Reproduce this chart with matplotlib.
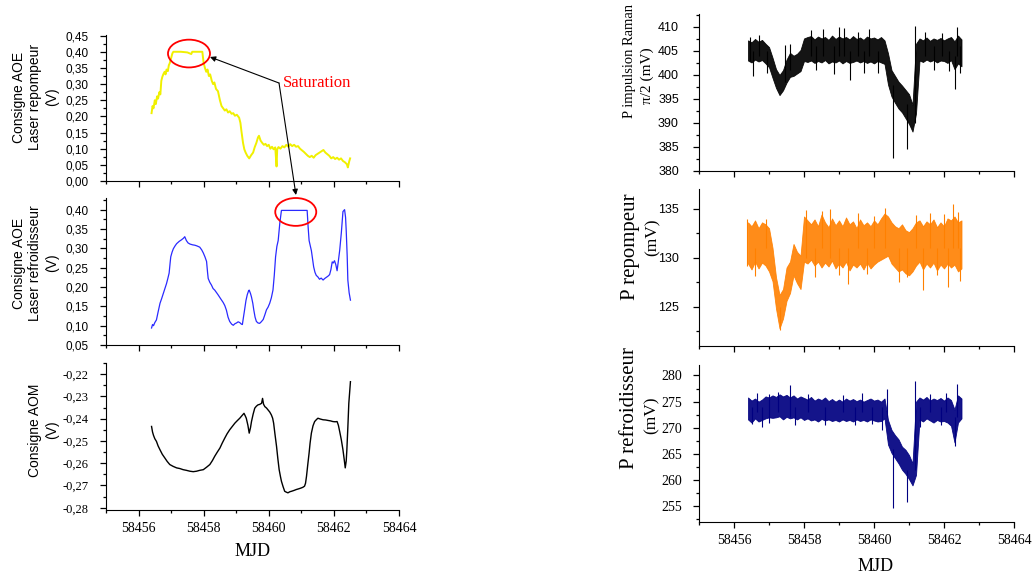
import numpy as np
import matplotlib
matplotlib.use('Agg')
import matplotlib.pyplot as plt
from matplotlib.patches import Ellipse
from matplotlib.ticker import MultipleLocator, FuncFormatter

SANS = ['Liberation Sans', 'DejaVu Sans']
SERIF = ['Liberation Serif', 'DejaVu Serif']

# ---- colonne de gauche : consignes (V) ----
mjd_rep = [58456.40, 58456.43, 58456.46, 58456.50, 58456.53, 58456.57, 58456.60, 58456.64,
           58456.67, 58456.70, 58456.73, 58456.76, 58456.80, 58456.83, 58456.86, 58456.90,
           58456.93, 58456.96, 58457.00, 58457.04, 58457.07, 58457.30, 58457.50, 58457.62,
           58457.65, 58457.96, 58458.00, 58458.04, 58458.08, 58458.12, 58458.16, 58458.20,
           58458.25, 58458.29, 58458.33, 58458.38, 58458.44, 58458.50, 58458.55, 58458.60,
           58458.65, 58458.70, 58458.75, 58458.80, 58458.86, 58458.91, 58458.96, 58459.02,
           58459.09, 58459.13, 58459.16, 58459.21, 58459.25, 58459.29, 58459.34, 58459.40,
           58459.46, 58459.52, 58459.57, 58459.62, 58459.67, 58459.70, 58459.75, 58459.80,
           58459.85, 58459.90, 58459.95, 58460.00, 58460.05, 58460.10, 58460.15, 58460.20,
           58460.24, 58460.26, 58460.30, 58460.36, 58460.42, 58460.48, 58460.54, 58460.60,
           58460.66, 58460.72, 58460.78, 58460.84, 58460.90, 58460.96, 58461.02, 58461.08,
           58461.14, 58461.20, 58461.26, 58461.32, 58461.38, 58461.44, 58461.50, 58461.56,
           58461.62, 58461.68, 58461.74, 58461.80, 58461.86, 58461.92, 58461.98, 58462.04,
           58462.10, 58462.16, 58462.22, 58462.28, 58462.34, 58462.40, 58462.43, 58462.47,
           58462.50]
aoe_rep = [0.210, 0.232, 0.225, 0.250, 0.238, 0.262, 0.255, 0.275,
           0.268, 0.310, 0.322, 0.330, 0.338, 0.330, 0.345, 0.340,
           0.358, 0.365, 0.380, 0.395, 0.400, 0.400, 0.398, 0.393,
           0.400, 0.400, 0.365, 0.350, 0.338, 0.345, 0.325, 0.330,
           0.310, 0.300, 0.305, 0.285, 0.278, 0.250, 0.232, 0.225,
           0.218, 0.222, 0.212, 0.216, 0.208, 0.210, 0.202, 0.205,
           0.196, 0.180, 0.155, 0.118, 0.098, 0.088, 0.078, 0.070,
           0.080, 0.088, 0.105, 0.118, 0.135, 0.140, 0.125, 0.118,
           0.112, 0.115, 0.108, 0.112, 0.100, 0.106, 0.098, 0.104,
           0.045, 0.098, 0.105, 0.100, 0.108, 0.104, 0.112, 0.106,
           0.114, 0.108, 0.112, 0.106, 0.108, 0.100, 0.095, 0.090,
           0.084, 0.078, 0.074, 0.078, 0.072, 0.080, 0.084, 0.088,
           0.092, 0.096, 0.088, 0.083, 0.078, 0.070, 0.074, 0.068,
           0.072, 0.066, 0.070, 0.062, 0.058, 0.052, 0.042, 0.060,
           0.070]

mjd_ref = [58456.40, 58456.43, 58456.46, 58456.50, 58456.55, 58456.60, 58456.66, 58456.71,
           58456.76, 58456.81, 58456.86, 58456.90, 58456.94, 58456.97, 58456.99, 58457.03,
           58457.07, 58457.12, 58457.17, 58457.25, 58457.32, 58457.38, 58457.42, 58457.47,
           58457.52, 58457.58, 58457.66, 58457.73, 58457.80, 58457.88, 58457.94, 58457.99,
           58458.04, 58458.09, 58458.12, 58458.14, 58458.19, 58458.24, 58458.29, 58458.34,
           58458.40, 58458.45, 58458.52, 58458.60, 58458.65, 58458.70, 58458.75, 58458.80,
           58458.86, 58458.91, 58458.96, 58459.01, 58459.06, 58459.11, 58459.16, 58459.19,
           58459.22, 58459.26, 58459.30, 58459.34, 58459.38, 58459.40, 58459.44, 58459.47,
           58459.51, 58459.54, 58459.58, 58459.62, 58459.67, 58459.72, 58459.77, 58459.83,
           58459.88, 58459.93, 58459.98, 58460.03, 58460.08, 58460.13, 58460.17, 58460.21,
           58460.25, 58460.29, 58460.34, 58460.39, 58461.18, 58461.21, 58461.24, 58461.28,
           58461.31, 58461.35, 58461.38, 58461.42, 58461.46, 58461.51, 58461.56, 58461.61,
           58461.67, 58461.72, 58461.77, 58461.82, 58461.87, 58461.91, 58461.95, 58461.98,
           58462.02, 58462.06, 58462.10, 58462.14, 58462.18, 58462.23, 58462.28, 58462.33,
           58462.36, 58462.38, 58462.41, 58462.43, 58462.47, 58462.51]
aoe_ref = [0.094, 0.103, 0.100, 0.108, 0.115, 0.135, 0.158, 0.170,
           0.183, 0.196, 0.209, 0.222, 0.236, 0.262, 0.278, 0.290,
           0.299, 0.306, 0.312, 0.318, 0.322, 0.326, 0.330, 0.320,
           0.314, 0.311, 0.309, 0.308, 0.306, 0.303, 0.296, 0.288,
           0.278, 0.266, 0.238, 0.222, 0.212, 0.205, 0.196, 0.192,
           0.185, 0.179, 0.170, 0.160, 0.152, 0.140, 0.122, 0.111,
           0.104, 0.101, 0.105, 0.107, 0.110, 0.108, 0.104, 0.103,
           0.120, 0.142, 0.165, 0.180, 0.190, 0.192, 0.183, 0.174,
           0.158, 0.141, 0.122, 0.111, 0.107, 0.106, 0.110, 0.116,
           0.128, 0.141, 0.148, 0.158, 0.172, 0.192, 0.230, 0.278,
           0.305, 0.320, 0.365, 0.398, 0.398, 0.355, 0.320, 0.305,
           0.294, 0.270, 0.252, 0.238, 0.230, 0.226, 0.220, 0.223,
           0.218, 0.222, 0.225, 0.228, 0.232, 0.245, 0.265, 0.262,
           0.268, 0.258, 0.242, 0.268, 0.295, 0.340, 0.395, 0.400,
           0.380, 0.346, 0.280, 0.218, 0.185, 0.166]

mjd_aom = [58456.40, 58456.43, 58456.46, 58456.50, 58456.55, 58456.60, 58456.66, 58456.73,
           58456.81, 58456.88, 58456.96, 58457.06, 58457.17, 58457.27, 58457.37, 58457.47,
           58457.58, 58457.68, 58457.78, 58457.88, 58457.99, 58458.09, 58458.19, 58458.27,
           58458.34, 58458.42, 58458.50, 58458.57, 58458.65, 58458.72, 58458.80, 58458.88,
           58458.96, 58459.04, 58459.11, 58459.18, 58459.24, 58459.28, 58459.31, 58459.36,
           58459.40, 58459.44, 58459.47, 58459.52, 58459.57, 58459.62, 58459.67, 58459.72,
           58459.78, 58459.81, 58459.84, 58459.88, 58459.93, 58459.98, 58460.03, 58460.08,
           58460.12, 58460.15, 58460.19, 58460.24, 58460.28, 58460.32, 58460.36, 58460.39,
           58460.44, 58460.49, 58460.54, 58460.59, 58460.65, 58460.70, 58460.78, 58460.85,
           58460.92, 58461.00, 58461.05, 58461.10, 58461.13, 58461.16, 58461.20, 58461.24,
           58461.27, 58461.31, 58461.36, 58461.41, 58461.46, 58461.51, 58461.59, 58461.67,
           58461.75, 58461.82, 58461.90, 58461.97, 58462.04, 58462.10, 58462.14, 58462.18,
           58462.23, 58462.28, 58462.32, 58462.35, 58462.38, 58462.40, 58462.43, 58462.46,
           58462.51]
aom = [-0.2435, -0.2460, -0.2475, -0.2490, -0.2502, -0.2522, -0.2540, -0.2560,
       -0.2577, -0.2592, -0.2606, -0.2614, -0.2621, -0.2624, -0.2629, -0.2632,
       -0.2636, -0.2638, -0.2636, -0.2632, -0.2629, -0.2618, -0.2606, -0.2588,
       -0.2569, -0.2550, -0.2532, -0.2510, -0.2487, -0.2468, -0.2450, -0.2435,
       -0.2420, -0.2408, -0.2398, -0.2386, -0.2376, -0.2388, -0.2398, -0.2430,
       -0.2465, -0.2440, -0.2413, -0.2380, -0.2353, -0.2344, -0.2338, -0.2336,
       -0.2331, -0.2309, -0.2335, -0.2346, -0.2352, -0.2361, -0.2370, -0.2383,
       -0.2398, -0.2420, -0.2468, -0.2525, -0.2580, -0.2629, -0.2660, -0.2681,
       -0.2705, -0.2726, -0.2730, -0.2733, -0.2728, -0.2726, -0.2722, -0.2718,
       -0.2715, -0.2711, -0.2708, -0.2703, -0.2690, -0.2659, -0.2605, -0.2554,
       -0.2510, -0.2465, -0.2432, -0.2413, -0.2405, -0.2398, -0.2402, -0.2405,
       -0.2406, -0.2408, -0.2410, -0.2413, -0.2414, -0.2413, -0.2430, -0.2458,
       -0.2495, -0.2540, -0.2585, -0.2621, -0.2590, -0.2540, -0.2440, -0.2331,
       -0.2234]

# ---- colonne de droite : puissances (mV), enveloppe haute / basse du bruit ----
mjd_p = [58456.4, 58456.5, 58456.6, 58456.7, 58456.8, 58456.9, 58457.0, 58457.1,
         58457.2, 58457.3, 58457.4, 58457.5, 58457.6, 58457.7, 58457.8, 58457.9,
         58458.0, 58458.1, 58458.2, 58458.3, 58458.4, 58458.5, 58458.6, 58458.7,
         58458.8, 58458.9, 58459.0, 58459.1, 58459.2, 58459.3, 58459.4, 58459.5,
         58459.6, 58459.7, 58459.8, 58459.9, 58460.0, 58460.1, 58460.2, 58460.3,
         58460.4, 58460.5, 58460.6, 58460.7, 58460.8, 58460.9, 58461.0, 58461.1,
         58461.2, 58461.3, 58461.4, 58461.5, 58461.6, 58461.7, 58461.8, 58461.9,
         58462.0, 58462.1, 58462.2, 58462.3, 58462.4, 58462.5]

raman_hi = [407.2, 406.8, 407.5, 406.9, 407.3, 406.5, 405.8, 403.6,
            401.2, 400.0, 401.0, 403.2, 404.6, 404.0, 404.4, 405.2,
            407.6, 407.9, 408.1, 407.4, 408.0, 407.6, 407.9, 407.3,
            408.2, 407.5, 408.0, 407.6, 407.9, 407.4, 408.1, 407.5,
            407.8, 407.3, 408.0, 407.6, 407.8, 407.4, 407.9, 407.2,
            404.5, 401.0, 399.8, 398.6, 397.8, 396.9, 396.0, 393.8,
            406.5, 407.6, 407.2, 407.8, 407.1, 407.6, 407.3, 407.7,
            407.2, 407.6, 407.9, 407.0, 408.2, 407.4]
raman_lo = [403.0, 402.6, 403.2, 402.8, 403.1, 402.4, 401.6, 399.4,
            397.3, 395.8, 396.8, 398.4, 399.6, 399.8, 400.3, 400.8,
            402.9, 402.7, 403.0, 402.5, 402.9, 402.6, 403.1, 402.4,
            402.8, 402.6, 403.0, 402.4, 402.9, 402.5, 402.7, 403.0,
            402.6, 402.9, 402.5, 402.8, 402.4, 402.9, 402.6, 402.3,
            398.0, 395.5, 394.2, 393.0, 392.2, 391.0, 389.8, 388.2,
            392.0, 403.0, 402.7, 403.2, 402.8, 403.1, 402.6, 403.0,
            402.9, 402.5, 403.1, 401.2, 402.4, 401.8]
raman_pic_t = [58456.45, 58456.55, 58456.72, 58456.95, 58457.45, 58457.6, 58458.2,
               58458.35, 58458.55, 58458.85, 58459.0, 58459.15, 58459.3, 58459.55,
               58459.7, 58459.85, 58460.1, 58460.55, 58460.95, 58461.18, 58461.45,
               58461.7, 58461.95, 58462.15, 58462.3, 58462.38, 58462.45]
raman_pic_lo = [403.0, 399.8, 404.0, 400.5, 398.5, 401.0, 404.0,
                401.0, 404.0, 400.2, 404.0, 404.0, 399.0, 404.0,
                400.3, 404.0, 400.5, 382.6, 384.6, 390.0, 404.0,
                401.0, 404.0, 400.8, 397.0, 404.0, 400.5]
raman_pic_hi = [408.0, 405.0, 408.3, 405.0, 406.2, 406.5, 409.4,
                406.0, 409.5, 406.0, 410.0, 409.8, 405.0, 409.0,
                405.0, 409.6, 405.0, 398.0, 394.0, 410.2, 409.0,
                406.0, 408.8, 405.0, 404.0, 410.0, 406.0]

rep_hi = [133.6, 133.2, 133.8, 133.0, 133.6, 133.4, 133.0, 131.0,
          128.0, 126.2, 126.8, 129.0, 129.6, 131.4, 130.6, 130.2,
          134.2, 133.8, 133.4, 133.9, 133.2, 134.4, 133.6, 133.1,
          134.0, 133.3, 133.8, 133.2, 134.1, 133.4, 133.7, 133.0,
          133.9, 133.3, 133.6, 133.2, 133.8, 133.4, 134.0, 134.5,
          134.2, 133.6, 133.2, 133.0, 133.4, 132.8, 132.6, 133.0,
          133.6, 133.8, 133.2, 133.7, 133.4, 133.9, 133.1, 133.6,
          133.2, 134.0, 133.8, 134.2, 133.6, 133.8]
rep_lo = [129.4, 128.8, 129.6, 128.9, 129.5, 129.2, 128.6, 127.6,
          124.8, 122.8, 123.8, 125.6, 126.4, 128.2, 127.4, 126.8,
          129.6, 129.4, 129.8, 129.2, 129.6, 129.0, 129.5, 129.1,
          129.7, 128.9, 129.4, 129.0, 129.6, 128.7, 129.3, 129.0,
          129.4, 128.8, 129.5, 128.9, 129.3, 129.6, 129.8, 130.0,
          130.2, 129.4, 129.0, 128.6, 128.8, 128.4, 128.2, 128.6,
          129.2, 129.6, 128.8, 129.4, 129.0, 129.5, 128.7, 129.3,
          128.9, 129.4, 129.0, 129.3, 128.6, 128.9]
rep_pic_t = [58456.38, 58456.6, 58456.9, 58457.3, 58458.05, 58458.3, 58458.5, 58458.75,
             58459.0, 58459.27, 58459.55, 58459.8, 58460.0, 58460.3, 58460.7, 58460.95,
             58461.2, 58461.39, 58461.6, 58461.8, 58462.0, 58462.1, 58462.25, 58462.4,
             58462.45]
rep_pic_lo = [129.2, 128.1, 131.0, 122.6, 130.0, 128.0, 131.0, 130.0,
              128.2, 127.3, 131.0, 128.3, 131.0, 131.0, 127.5, 128.0,
              131.0, 126.7, 131.0, 128.2, 131.0, 127.0, 131.0, 131.0,
              127.6]
rep_pic_hi = [133.9, 131.0, 133.9, 125.0, 134.9, 131.0, 134.8, 135.0,
              131.0, 131.0, 134.6, 131.0, 134.2, 135.1, 131.0, 131.0,
              134.3, 131.0, 134.6, 131.0, 134.5, 131.0, 135.5, 134.7,
              131.0]

refr_hi = [275.8, 275.2, 275.6, 275.0, 275.4, 276.0, 275.8, 276.2,
           275.9, 276.4, 276.0, 276.3, 275.8, 276.2, 275.6, 276.0,
           275.7, 275.4, 275.9, 275.2, 275.6, 275.3, 275.8, 275.1,
           275.5, 275.0, 275.4, 275.0, 275.6, 275.2, 275.5, 275.1,
           275.4, 275.0, 275.3, 275.6, 275.2, 275.4, 275.0, 275.6,
           271.5, 269.6, 268.6, 267.8, 266.4, 265.8, 264.8, 263.2,
           275.0, 275.8, 275.4, 275.9, 275.2, 275.6, 275.3, 275.7,
           275.2, 275.8, 275.3, 273.5, 276.2, 275.6]
refr_lo = [271.6, 271.0, 271.8, 271.2, 271.5, 271.8, 272.0, 271.9,
           272.0, 272.2, 271.6, 272.1, 271.8, 272.0, 271.6, 272.0,
           271.5, 271.8, 271.4, 271.6, 271.2, 271.7, 271.4, 271.6,
           271.3, 271.5, 271.2, 271.6, 271.3, 271.5, 271.2, 271.6,
           271.3, 271.5, 271.2, 271.6, 271.4, 271.2, 271.3, 271.8,
           266.8, 265.2, 264.2, 263.2, 262.0, 261.2, 260.2, 259.0,
           261.0, 271.6, 271.2, 271.8, 271.4, 271.0, 271.5, 271.2,
           271.3, 271.0, 270.4, 267.2, 271.0, 271.8]
refr_pic_t = [58456.5, 58456.65, 58456.8, 58457.0, 58457.25, 58457.6, 58457.75, 58458.1,
              58458.6, 58459.1, 58459.45, 58459.65, 58459.95, 58460.22, 58460.36,
              58460.55, 58460.95, 58461.18, 58461.3, 58461.6, 58461.9, 58462.05,
              58462.31, 58462.36]
refr_pic_lo = [270.8, 273.0, 270.2, 271.0, 273.0, 272.0, 270.6, 273.0,
               270.5, 273.0, 270.6, 273.0, 270.8, 269.5, 272.0,
               254.7, 255.8, 262.0, 270.2, 273.0, 270.6, 273.0,
               266.5, 272.0]
refr_pic_hi = [274.0, 276.6, 274.0, 276.5, 276.8, 278.1, 274.0, 276.5,
               274.0, 276.3, 274.0, 276.7, 274.0, 274.0, 277.5,
               266.0, 262.0, 279.0, 274.0, 276.5, 274.0, 276.6,
               272.0, 278.3]


def virgule(v, pos):
    return ('%.2f' % v).replace('.', ',')


def habille(ax, ylim, pas, sous_pas, police_y, taille_y, pad_y, bas=False, fmt=None):
    ax.spines['top'].set_visible(False)
    ax.spines['right'].set_visible(False)
    ax.set_xlim(58455, 58464)
    ax.set_ylim(*ylim)
    ax.xaxis.set_major_locator(MultipleLocator(2))
    ax.xaxis.set_minor_locator(MultipleLocator(1))
    ax.yaxis.set_major_locator(MultipleLocator(pas))
    ax.yaxis.set_minor_locator(MultipleLocator(sous_pas))
    if fmt is not None:
        ax.yaxis.set_major_formatter(FuncFormatter(fmt))
    ax.tick_params(which='both', direction='out', width=0.9)
    ax.tick_params(which='major', length=4.5)
    ax.tick_params(which='minor', length=2.5)
    ax.tick_params(axis='y', pad=pad_y, labelsize=taille_y, labelfontfamily=police_y)
    ax.tick_params(axis='x', pad=4, labelsize=10, labelfontfamily='Liberation Serif',
                   labelbottom=bas)


def bande(ax, hi, lo, pic_t, pic_lo, pic_hi, couleur, alpha):
    ax.fill_between(mjd_p, lo, hi, color=couleur, alpha=alpha, lw=0.6)
    ax.vlines(pic_t, pic_lo, pic_hi, color=couleur, lw=0.8)


fig = plt.figure(figsize=(10.33, 5.79), dpi=100)

# gauche
ax1 = fig.add_axes([0.1026, 0.6874, 0.2836, 0.2522])
ax2 = fig.add_axes([0.1026, 0.4041, 0.2836, 0.2539])
ax3 = fig.add_axes([0.1026, 0.1192, 0.2836, 0.2539])
# droite
ax4 = fig.add_axes([0.6767, 0.7047, 0.3049, 0.2712])
ax5 = fig.add_axes([0.6767, 0.4024, 0.3049, 0.2712])
ax6 = fig.add_axes([0.6767, 0.0984, 0.3049, 0.2712])

ax1.plot(mjd_rep, aoe_rep, color='#f0f000', lw=1.4)
ax2.plot(mjd_ref, aoe_ref, color='#2a2aff', lw=0.9)
ax3.plot(mjd_aom, aom, color='black', lw=1.0)

habille(ax1, (0, 0.452), 0.05, 0.025, 'Liberation Sans', 8.5, 8, fmt=virgule)
habille(ax2, (0.05, 0.43), 0.05, 0.025, 'Liberation Sans', 8.5, 8, fmt=virgule)
habille(ax3, (-0.281, -0.215), 0.01, 0.005, 'Liberation Serif', 9, 8, bas=True, fmt=virgule)

for ax, lab, yc in [(ax1, 'Consigne AOE\nLaser repompeur\n(V)', 0.575),
                    (ax2, 'Consigne AOE\nLaser refroidisseur\n(V)', 0.558),
                    (ax3, 'Consigne AOM\n(V)', 0.544)]:
    ax.set_ylabel(lab, family=SANS, fontsize=10, linespacing=1.25)
    ax.yaxis.set_label_coords(-0.16, yc)

ax3.set_xlabel('MJD', family=SERIF, fontsize=13)
ax3.xaxis.set_label_coords(0.5, -0.224)

bande(ax4, raman_hi, raman_lo, raman_pic_t, raman_pic_lo, raman_pic_hi, 'black', 0.92)
bande(ax5, rep_hi, rep_lo, rep_pic_t, rep_pic_lo, rep_pic_hi, '#ff8000', 0.9)
bande(ax6, refr_hi, refr_lo, refr_pic_t, refr_pic_lo, refr_pic_hi, '#000080', 0.92)

habille(ax4, (380, 412.7), 5, 2.5, 'Liberation Sans', 9, 10)
habille(ax5, (121, 137), 5, 2.5, 'Liberation Sans', 9, 10)
habille(ax6, (252, 282), 5, 2.5, 'Liberation Serif', 10, 8, bas=True)

# titres d'axes a droite (deux lignes decalees comme sur l'original)
etiquettes = [(ax4, 'P impulsion Raman', 10.5, -0.222, 0.700, 'π/2 (mV)', 11, -0.163, 0.605),
              (ax5, 'P repompeur', 15, -0.216, 0.630, '(mV)', 12.5, -0.146, 0.694),
              (ax6, 'P refroidisseur', 15, -0.222, 0.729, '(mV)', 12.5, -0.152, 0.680)]
for ax, l1, t1, x1, y1, l2, t2, x2, y2 in etiquettes:
    ax.text(x1, y1, l1, transform=ax.transAxes, rotation=90, ha='center', va='center',
            family=SERIF, fontsize=t1)
    ax.text(x2, y2, l2, transform=ax.transAxes, rotation=90, ha='center', va='center',
            family=SERIF, fontsize=t2)

ax6.set_xlabel('MJD', family=SERIF, fontsize=13)
ax6.xaxis.set_label_coords(0.559, -0.229)

# saturation : ellipses rouges + fleches
ax1.add_patch(Ellipse((58457.55, 0.3945), 1.29, 0.086, fill=False, ec='red', lw=1.3,
                      clip_on=False, zorder=5))
ax2.add_patch(Ellipse((58460.83, 0.394), 1.26, 0.072, fill=False, ec='red', lw=1.3,
                      clip_on=False, zorder=5))
fig.text(0.274, 0.8566, 'Saturation', color='red', family=SERIF, fontsize=12, va='center')
for cible in [(0.2033, 0.9016), (0.2865, 0.6632)]:
    ax1.annotate('', xy=cible, xycoords='figure fraction', xytext=(0.2701, 0.8566),
                 textcoords='figure fraction', annotation_clip=False,
                 arrowprops=dict(arrowstyle='-|>', color='black', lw=0.8,
                                 mutation_scale=8, shrinkA=0, shrinkB=0))

fig.savefig('out.png', dpi=100)
